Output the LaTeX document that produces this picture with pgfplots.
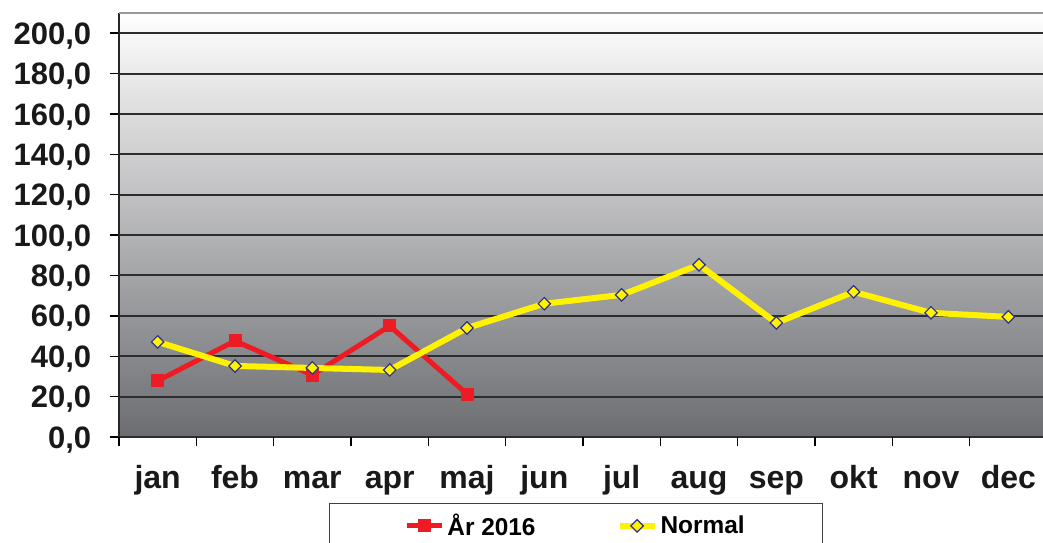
\documentclass[border=0pt]{standalone}
\usepackage{fontspec}
\setmainfont{Liberation Sans}
\usepackage{pgfplots}
\pgfplotsset{compat=1.18}
\definecolor{myred}{RGB}{237,28,36}
\definecolor{myyellow}{RGB}{255,242,0}
\definecolor{myblue}{RGB}{46,49,146}
\definecolor{gridc}{RGB}{45,45,45}
\definecolor{bgbottom}{RGB}{108,109,113}
\begin{document}
\begin{tikzpicture}
\begin{axis}[
  name=ax,
  scale only axis, width=464pt, height=212pt,
  xmin=-0.5, xmax=11.5, ymin=0, ymax=210,
  clip=false,
  axis background/.style={top color=white, bottom color=bgbottom},
  axis line style={draw=none},
  ytick={0,20,40,60,80,100,120,140,160,180,200},
  ymajorgrids,
  major grid style={gridc, line width=1pt},
  xtick={-0.5,0.5,1.5,2.5,3.5,4.5,5.5,6.5,7.5,8.5,9.5,10.5,11.5},
  xticklabels={},
  extra x ticks={0,1,2,3,4,5,6,7,8,9,10,11},
  extra x tick labels={jan,feb,mar,apr,maj,jun,jul,aug,sep,okt,nov,dec},
  extra x tick style={major tick length=0pt},
  xtick pos=bottom, ytick pos=left,
  tick align=outside,
  major tick length=4.7pt,
  tick style={black, line width=0.7pt},
  tick label style={font=\fontsize{15.5}{18}\selectfont\bfseries, text=black!90},
  xticklabel style={font=\fontsize{16}{18}\selectfont\bfseries, anchor=base, yshift=-25.5pt},
  yticklabel style={/pgf/number format/.cd, fixed, fixed zerofill, precision=1, use comma, assume math mode=true,
     /tikz/.cd, anchor=east, text height=11.1pt, text depth=0pt, inner sep=0pt, xshift=-9pt},
  legend columns=2,
  legend style={at={(0.4925,-0.1557)}, anchor=north, draw=black!75, line width=0.6pt, fill=white,
     font=\fontsize{12.2}{15}\selectfont\bfseries, inner xsep=37.5pt, inner ysep=3pt,
     nodes={inner xsep=1.5pt},
     /tikz/every even column/.append style={column sep=39pt}},
  legend image code/.code={\draw[mark repeat=2,mark phase=2,#1] plot coordinates {(0pt,0pt)(8.75pt,0pt)(17.5pt,0pt)};},
]
\addplot[myred, line width=2.5pt, mark=square*, mark size=3pt, mark options={solid, fill=myred, line width=0.5pt}]
  coordinates {(0,27.8)(1,47.6)(2,30.7)(3,55)(4,21.3)};
\addlegendentry{År 2016}
\addplot[myyellow, line width=3pt, mark=square*, mark size=2.2pt, mark options={solid, rotate=45, fill=myyellow, draw=myblue, line width=0.6pt}]
  coordinates {(0,47.1)(1,35.2)(2,34.2)(3,33.2)(4,54)(5,66)(6,70.4)(7,85.3)(8,56.5)(9,71.9)(10,61.5)(11,59.5)};
\addlegendentry{Normal}
\draw[black!85, line width=0.9pt] (rel axis cs:0,0) -- (rel axis cs:0,1);
\draw[black!40, line width=0.6pt] (rel axis cs:0,1) -- (rel axis cs:1,1);
\end{axis}
\pgfresetboundingbox
\path[use as bounding box] ([shift={(-59.5pt,-52.5pt)}]ax.south west) rectangle ([shift={(-2pt,6.5pt)}]ax.north east);
\end{tikzpicture}
\end{document}
